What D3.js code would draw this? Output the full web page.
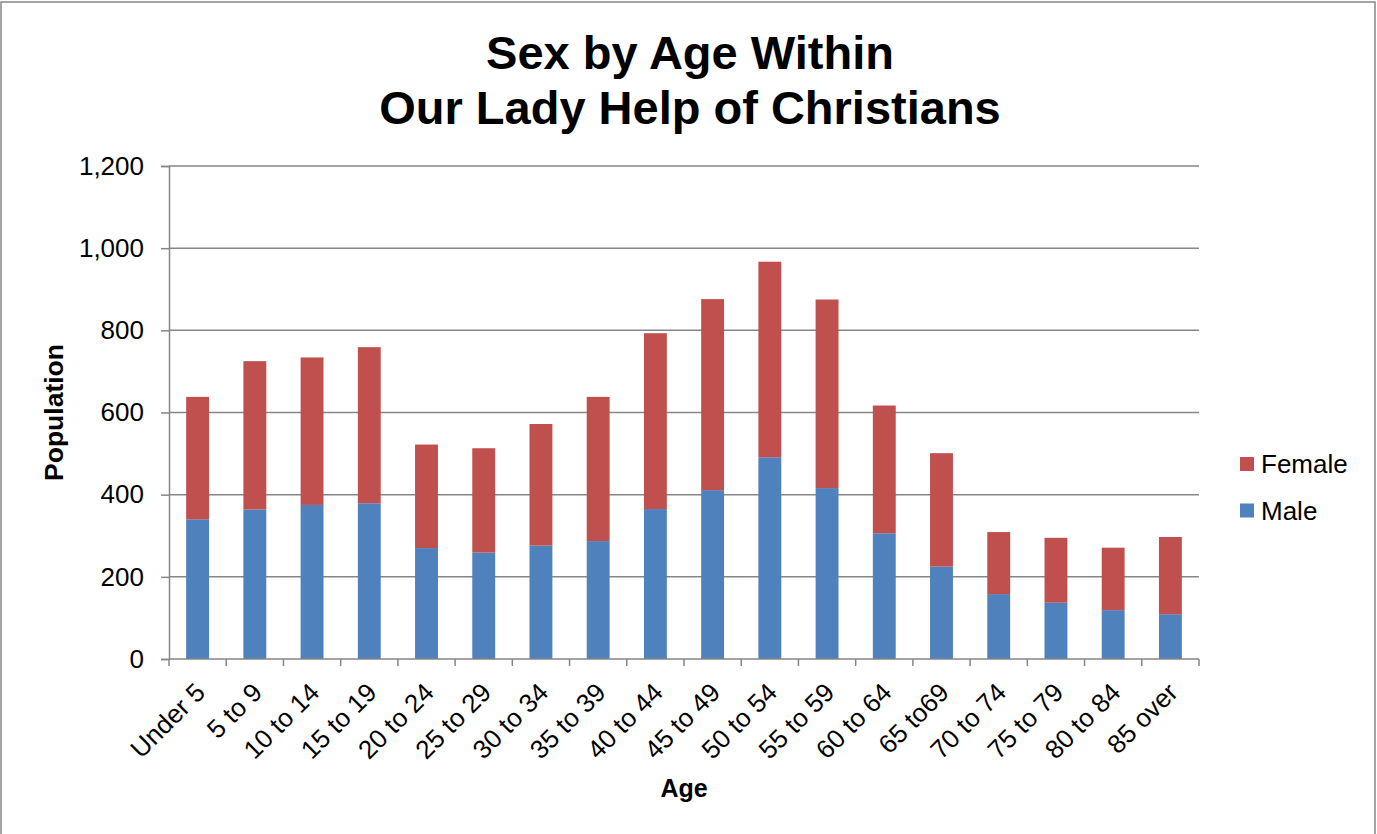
<!DOCTYPE html>
<html>
<head>
<meta charset="utf-8">
<script src="https://cdn.jsdelivr.net/npm/d3@7/dist/d3.min.js"></script>
<style>
  html, body { margin: 0; padding: 0; background: #fff; }
  svg { display: block; font-family: "Liberation Sans", Arial, sans-serif; }
</style>
</head>
<body>
<svg id="chart" width="1377" height="834"></svg>
<script>
const categories = ["Under 5","5 to 9","10 to 14","15 to 19","20 to 24","25 to 29","30 to 34","35 to 39","40 to 44","45 to 49","50 to 54","55 to 59","60 to 64","65 to69","70 to 74","75 to 79","80 to 84","85 over"];
const male   = [340, 364, 375, 379, 270, 259, 276, 287, 365, 411, 491, 416, 306, 225, 158, 137, 119, 109];
const female = [298, 361, 359, 380, 252, 254, 296, 351, 428, 465, 476, 459, 311, 276, 151, 158, 152, 188];
const seriesNames = ["Male", "Female"];
const seriesColors = ["#4F81BD", "#C0504D"];
const yTicks = [0, 200, 400, 600, 800, 1000, 1200];
const titleLines = ["Sex by Age Within", "Our Lady Help of Christians"];

const svg = d3.select("#chart");
const W = 1377, H = 834;
const plot = { left: 169, right: 1199, top: 166, bottom: 659 };
const grey = "#868686";

// chart border
svg.append("rect").attr("x", 1).attr("y", 2).attr("width", W - 3).attr("height", H + 10)
  .attr("fill", "none").attr("stroke", grey).attr("stroke-width", 1.5);

const xb = d3.scaleBand().domain(categories).range([plot.left, plot.right]);
const y = d3.scaleLinear().domain([0, 1200]).range([plot.bottom, plot.top]);

// gridlines
svg.append("g").selectAll("line").data(yTicks.filter(d => d > 0)).join("line")
  .attr("x1", plot.left).attr("x2", plot.right)
  .attr("y1", d => y(d)).attr("y2", d => y(d))
  .attr("stroke", grey).attr("stroke-width", 1.5);

// stacked data
const rows = categories.map((c, i) => ({ cat: c, Male: male[i], Female: female[i] }));
const stack = d3.stack().keys(seriesNames)(rows);

const bw = xb.bandwidth() / 2.5;
svg.append("g").selectAll("g").data(stack).join("g")
  .attr("fill", (d, i) => seriesColors[i])
  .selectAll("rect").data(d => d).join("rect")
  .attr("x", d => xb(d.data.cat) + (xb.bandwidth() - bw) / 2)
  .attr("width", bw)
  .attr("y", d => y(d[1]))
  .attr("height", d => y(d[0]) - y(d[1]));

// y axis
const yAxis = d3.axisLeft(y).tickValues(yTicks).tickSize(8).tickPadding(17)
  .tickFormat(d3.format(","));
const gy = svg.append("g").attr("transform", `translate(${plot.left},0)`).call(yAxis);
gy.select(".domain").attr("stroke", grey).attr("stroke-width", 1.5);
gy.selectAll(".tick line").attr("stroke", grey).attr("stroke-width", 1.5);
gy.selectAll(".tick text").attr("font-size", 26).attr("fill", "#000")
  .attr("font-family", "Liberation Sans, Arial, sans-serif");

// x axis line and ticks at band boundaries
svg.append("line").attr("x1", plot.left).attr("x2", plot.right)
  .attr("y1", plot.bottom).attr("y2", plot.bottom)
  .attr("stroke", grey).attr("stroke-width", 1.5);
const bounds = categories.map(c => xb(c)).concat([plot.right]);
svg.append("g").selectAll("line").data(bounds).join("line")
  .attr("x1", d => d).attr("x2", d => d)
  .attr("y1", plot.bottom).attr("y2", plot.bottom + 7)
  .attr("stroke", grey).attr("stroke-width", 1.5);

// x labels rotated
svg.append("g").selectAll("text").data(categories).join("text")
  .attr("transform", d => `translate(${xb(d) + xb.bandwidth() / 2 + 9},${plot.bottom + 35}) rotate(-45)`)
  .attr("text-anchor", "end")
  .attr("font-size", 26)
  .attr("fill", "#000")
  .text(d => d);

// title
svg.append("g").selectAll("text").data(titleLines).join("text")
  .attr("x", 690).attr("y", (d, i) => 69 + i * 55)
  .attr("text-anchor", "middle")
  .attr("font-size", 47).attr("font-weight", "bold")
  .text(d => d);

// axis titles
svg.append("text").attr("x", 684).attr("y", 797).attr("text-anchor", "middle")
  .attr("font-size", 25).attr("font-weight", "bold").text("Age");
svg.append("text").attr("transform", `translate(63,${(plot.top + plot.bottom) / 2}) rotate(-90)`)
  .attr("text-anchor", "middle").attr("font-size", 26.5).attr("font-weight", "bold").text("Population");

// legend (Female above Male)
const legendItems = [{ name: "Female", color: seriesColors[1] }, { name: "Male", color: seriesColors[0] }];
const lg = svg.append("g").selectAll("g").data(legendItems).join("g")
  .attr("transform", (d, i) => `translate(1240,${457 + i * 46.5})`);
lg.append("rect").attr("width", 14).attr("height", 14).attr("fill", d => d.color);
lg.append("text").attr("x", 21).attr("y", 16).attr("font-size", 26).text(d => d.name);
</script>
</body>
</html>
